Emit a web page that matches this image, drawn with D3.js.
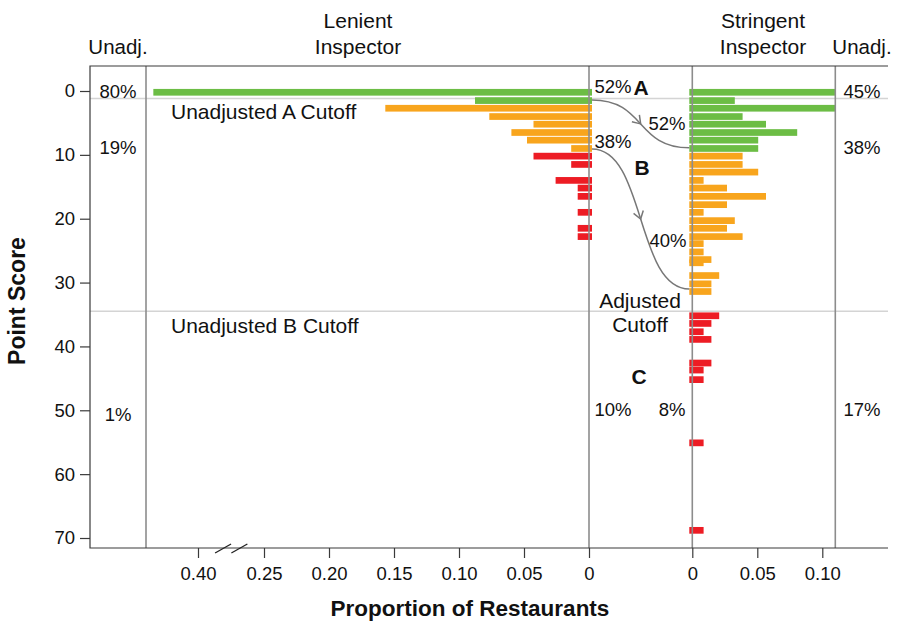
<!DOCTYPE html>
<html>
<head>
<meta charset="utf-8">
<script src="https://cdn.jsdelivr.net/npm/d3@7"></script>
<style>
  body { margin: 0; background: #fff; }
  svg { font-family: "Liberation Sans", Arial, Helvetica, sans-serif; }
</style>
</head>
<body>
<div id="chart"></div>
<script>
// point-score axis
const yTicks = [0, 10, 20, 30, 40, 50, 60, 70];
const leftTicks = [0, 0.05, 0.10, 0.15, 0.20, 0.25, 0.40];
const rightTicks = [0, 0.05, 0.10];

// lenient inspector distribution (score, proportion, grade)
const lenientScore = [0.2, 1.5, 2.7, 4.0, 5.2, 6.5, 7.7, 9.0, 10.2, 11.5, 14.0, 15.2, 16.5, 19.0, 21.5, 22.8];
const lenientProp  = [0.51, 0.090, 0.159, 0.079, 0.045, 0.062, 0.050, 0.016, 0.045, 0.016, 0.028, 0.011, 0.011, 0.011, 0.011, 0.011];
const lenientGrade = ['A', 'A', 'B', 'B', 'B', 'B', 'B', 'B', 'C', 'C', 'C', 'C', 'C', 'C', 'C', 'C'];

// stringent inspector distribution
const stringentScore = [0.2, 1.5, 2.7, 4.0, 5.2, 6.5, 7.7, 9.0,
  10.2, 11.5, 12.7, 14.0, 15.2, 16.5, 17.8, 19.0, 20.3, 21.5, 22.8, 23.9, 25.2, 26.4, 26.9, 28.9, 30.2, 31.4,
  35.2, 36.4, 37.7, 38.9, 42.6, 43.7, 45.2, 55.1, 68.8];
const stringentProp = [0.13, 0.035, 0.13, 0.041, 0.059, 0.083, 0.053, 0.053,
  0.041, 0.041, 0.053, 0.011, 0.029, 0.059, 0.029, 0.011, 0.035, 0.029, 0.041, 0.011, 0.011, 0.017, 0.011, 0.023, 0.017, 0.017,
  0.023, 0.017, 0.011, 0.017, 0.017, 0.011, 0.011, 0.011, 0.011];
const stringentGrade = ['A', 'A', 'A', 'A', 'A', 'A', 'A', 'A',
  'B', 'B', 'B', 'B', 'B', 'B', 'B', 'B', 'B', 'B', 'B', 'B', 'B', 'B', 'B', 'B', 'B', 'B',
  'C', 'C', 'C', 'C', 'C', 'C', 'C', 'C', 'C'];

// unadjusted cutoffs (score) and adjusted cutoff curves (left score -> right score)
const cutoffScores = [1.17, 34.5];
const curveFrom = [1.4, 9.1];
const curveTo = [8.9, 31.0];

const width = 899, height = 622;
const frame = { left: 90, right: 888, top: 66, bottom: 548 };
const color = { A: '#6cbd45', B: '#f8a51d', C: '#ed1c24' };

const svg = d3.select('#chart').append('svg')
  .attr('width', width)
  .attr('height', height);

const y = d3.scaleLinear().domain([0, 70]).range([91, 538]);
// left axis is broken between 0.25 and 0.40
const xL = d3.scaleLinear().domain([0, 0.25, 0.40, 0.52]).range([589, 264, 198, 146]);
const xR = d3.scaleLinear().domain([0, 0.11]).range([692.3, 835.3]);

const barOff = 3;
const barH = y(1.05) - y(0);
const rightEdge = xR(0.11);

// light cutoff lines
svg.append('g').selectAll('line')
  .data(cutoffScores)
  .join('line')
  .attr('x1', frame.left).attr('x2', frame.right)
  .attr('y1', d => y(d)).attr('y2', d => y(d))
  .attr('stroke', '#d4d4d4')
  .attr('stroke-width', 1.5);

// lenient bars
svg.append('g').selectAll('rect')
  .data(lenientScore)
  .join('rect')
  .attr('x', (d, i) => xL(lenientProp[i]) + barOff)
  .attr('width', (d, i) => xL(0) - xL(lenientProp[i]))
  .attr('y', d => y(d) - barH / 2)
  .attr('height', barH)
  .attr('fill', (d, i) => color[lenientGrade[i]]);

// stringent bars, clipped at the Unadj. column
svg.append('g').selectAll('rect')
  .data(stringentScore)
  .join('rect')
  .attr('x', xR(0) - barOff)
  .attr('width', (d, i) => Math.min(xR(stringentProp[i]) - barOff, rightEdge) - (xR(0) - barOff))
  .attr('y', d => y(d) - barH / 2)
  .attr('height', barH)
  .attr('fill', (d, i) => color[stringentGrade[i]]);

// gray vertical dividers
svg.append('g').selectAll('line')
  .data([xL(0.52), xL(0), xR(0), rightEdge])
  .join('line')
  .attr('x1', d => d).attr('x2', d => d)
  .attr('y1', frame.top).attr('y2', frame.bottom)
  .attr('stroke', '#8c8c8c')
  .attr('stroke-width', 1.6);

// frame
svg.append('path')
  .attr('d', `M${frame.right},${frame.top}H${frame.left}V${frame.bottom}H${frame.right}`)
  .attr('fill', 'none')
  .attr('stroke', '#3a3a3a')
  .attr('stroke-width', 1.2);

// axes
const fmt = d => d === 0 ? '0' : d3.format('.2f')(d);

function styleAxis(g) {
  g.select('.domain').remove();
  g.selectAll('.tick line').attr('stroke', '#3a3a3a').attr('stroke-width', 1.2);
  g.selectAll('.tick text').attr('font-size', 18.5).attr('fill', '#111')
    .attr('font-family', '"Liberation Sans", Arial, sans-serif');
}

svg.append('g')
  .attr('transform', `translate(0,${frame.bottom})`)
  .call(d3.axisBottom(xL).tickValues(leftTicks).tickFormat(fmt).tickSize(10).tickPadding(9))
  .call(styleAxis);

svg.append('g')
  .attr('transform', `translate(0,${frame.bottom})`)
  .call(d3.axisBottom(xR).tickValues(rightTicks).tickFormat(fmt).tickSize(10).tickPadding(9))
  .call(styleAxis);

svg.append('g')
  .attr('transform', `translate(${frame.left},0)`)
  .call(d3.axisLeft(y).tickValues(yTicks).tickSize(10).tickPadding(5))
  .call(styleAxis);

// axis break marks
svg.append('g').selectAll('line')
  .data([0.343, 0.306])
  .join('line')
  .attr('x1', d => xL(d) - 8).attr('x2', d => xL(d) + 8)
  .attr('y1', frame.bottom + 5).attr('y2', frame.bottom - 4)
  .attr('stroke', '#222')
  .attr('stroke-width', 1.3);

// adjusted cutoff curves with arrow heads
curveFrom.forEach((s0, i) => {
  const p0 = [xL(0) + barOff, y(s0)];
  const p3 = [xR(0) - barOff, y(curveTo[i])];
  const dx = (p3[0] - p0[0]) * 0.55;
  const p1 = [p0[0] + dx, p0[1]];
  const p2 = [p3[0] - dx, p3[1]];
  svg.append('path')
    .attr('d', `M${p0}C${p1} ${p2} ${p3}`)
    .attr('fill', 'none')
    .attr('stroke', '#777')
    .attr('stroke-width', 1.5);

  // midpoint and tangent of the bezier
  const t = 0.5;
  const bx = (a, b, c, d) => (1 - t) ** 3 * a + 3 * (1 - t) ** 2 * t * b + 3 * (1 - t) * t * t * c + t ** 3 * d;
  const tx = (a, b, c, d) => 3 * (1 - t) ** 2 * (b - a) + 6 * (1 - t) * t * (c - b) + 3 * t * t * (d - c);
  const mx = bx(p0[0], p1[0], p2[0], p3[0]);
  const my = bx(p0[1], p1[1], p2[1], p3[1]);
  const ang = Math.atan2(tx(p0[1], p1[1], p2[1], p3[1]), tx(p0[0], p1[0], p2[0], p3[0]));
  const len = 9, spread = 0.6;
  const a1 = [mx - len * Math.cos(ang - spread), my - len * Math.sin(ang - spread)];
  const a2 = [mx - len * Math.cos(ang + spread), my - len * Math.sin(ang + spread)];
  svg.append('path')
    .attr('d', `M${a1}L${mx},${my}L${a2}`)
    .attr('fill', 'none')
    .attr('stroke', '#777')
    .attr('stroke-width', 1.5);
});

// text labels
const labels = [
  ['Unadj.', 118, 54, 20.5, 'normal', 'middle'],
  ['Lenient', 358, 28, 21, 'normal', 'middle'],
  ['Inspector', 358, 54, 21, 'normal', 'middle'],
  ['Stringent', 763, 28, 21, 'normal', 'middle'],
  ['Inspector', 763, 54, 21, 'normal', 'middle'],
  ['Unadj.', 862, 54, 20.5, 'normal', 'middle'],
  ['80%', 118, 97.5, 18.5, 'normal', 'middle'],
  ['19%', 118, 153.5, 18.5, 'normal', 'middle'],
  ['1%', 118, 421, 18.5, 'normal', 'middle'],
  ['45%', 862, 97.5, 18.5, 'normal', 'middle'],
  ['38%', 862, 153.5, 18.5, 'normal', 'middle'],
  ['17%', 862, 416, 18.5, 'normal', 'middle'],
  ['52%', 613, 92.5, 18.5, 'normal', 'middle'],
  ['A', 641, 95, 21, 'bold', 'middle'],
  ['52%', 667, 130, 18.5, 'normal', 'middle'],
  ['38%', 613, 148, 18.5, 'normal', 'middle'],
  ['B', 642, 175, 21, 'bold', 'middle'],
  ['40%', 668, 246.5, 18.5, 'normal', 'middle'],
  ['Adjusted', 640, 308, 21, 'normal', 'middle'],
  ['Cutoff', 640, 332, 21, 'normal', 'middle'],
  ['C', 639, 384, 21, 'bold', 'middle'],
  ['10%', 613, 416, 18.5, 'normal', 'middle'],
  ['8%', 672, 416, 18.5, 'normal', 'middle'],
  ['Unadjusted A Cutoff', 171, 118.5, 21, 'normal', 'start'],
  ['Unadjusted B Cutoff', 171, 333, 21, 'normal', 'start'],
  ['Proportion of Restaurants', 470, 616, 22.5, 'bold', 'middle']
];

svg.append('g').selectAll('text')
  .data(labels)
  .join('text')
  .attr('x', d => d[1])
  .attr('y', d => d[2])
  .attr('font-size', d => d[3])
  .attr('font-weight', d => d[4])
  .attr('text-anchor', d => d[5])
  .attr('fill', '#111')
  .text(d => d[0]);

svg.append('text')
  .attr('transform', 'translate(25,301) rotate(-90)')
  .attr('text-anchor', 'middle')
  .attr('font-size', 23)
  .attr('font-weight', 'bold')
  .attr('fill', '#111')
  .text('Point Score');
</script>
</body>
</html>
